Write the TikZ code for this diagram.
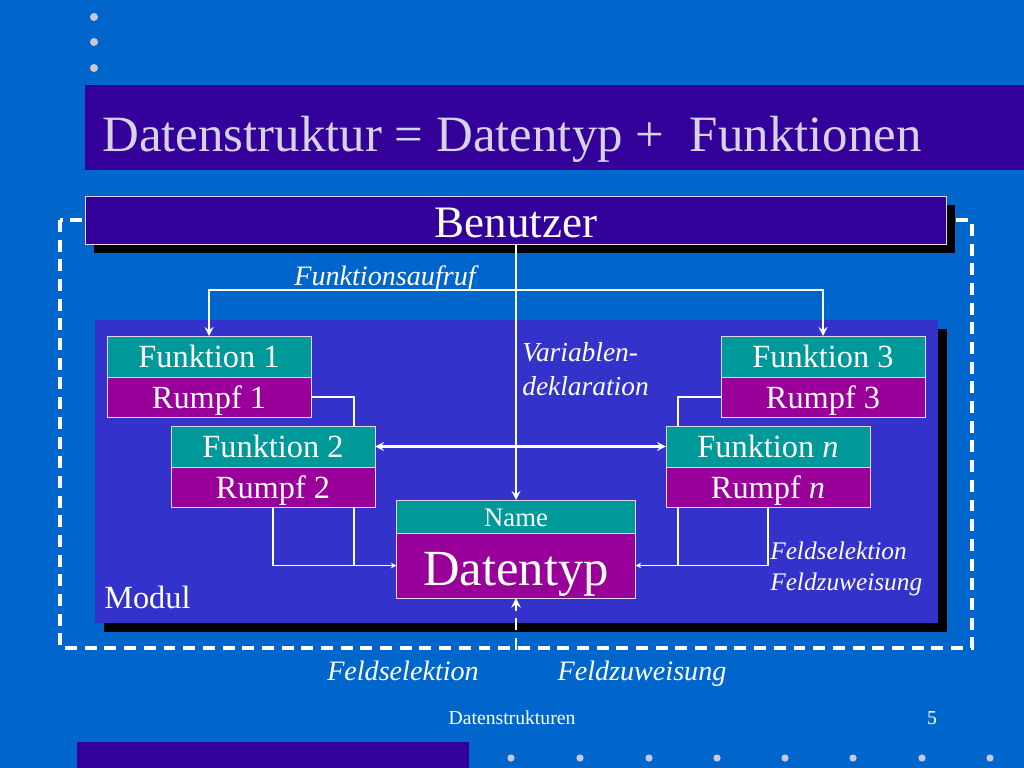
\documentclass[tikz,border=0pt]{standalone}
\usepackage{fontspec}
\setmainfont{Liberation Serif}
\usetikzlibrary{positioning, shadows, arrows}
\definecolor{slidebg}{RGB}{0,102,204}
\definecolor{titlebar}{RGB}{51,0,153}
\definecolor{modulfill}{RGB}{51,51,204}
\definecolor{funkfill}{RGB}{0,153,153}
\definecolor{rumpffill}{RGB}{153,0,153}
\definecolor{titletext}{RGB}{215,210,230}
\definecolor{dotgrey}{RGB}{200,200,215}
\definecolor{boxline}{RGB}{225,215,240}
\tikzstyle{funk} = [rectangle, minimum width=5.1cm, minimum height=1.025cm, inner sep=0pt, outer sep=0pt, text height=16.3pt, text depth=0pt, text centered, draw=boxline, line width=0.6pt, fill=funkfill, text=white, font=\fontsize{23}{26}\selectfont]
\tikzstyle{rumpf} = [funk, fill=rumpffill, minimum height=1.0cm]
\tikzstyle{typ} = [funk, minimum width=5.975cm]
\tikzstyle{bar} = [rectangle, minimum width=21.525cm, minimum height=1.2cm, inner sep=0pt, text height=25.5pt, text depth=0pt, draw=boxline, line width=0.6pt, fill=titlebar, text=white, font=\fontsize{32}{36}\selectfont, drop shadow={shadow xshift=0.22cm, shadow yshift=-0.22cm, opacity=1, fill=black}]
\tikzstyle{modul} = [rectangle, minimum width=21.075cm, minimum height=7.575cm, fill=modulfill, drop shadow={shadow xshift=0.22cm, shadow yshift=-0.22cm, opacity=1, fill=black}]
\tikzstyle{arrow} = [white, line width=1.8pt, ->, >=stealth]
\tikzstyle{dblarrow} = [arrow, <->]
\tikzstyle{link} = [white, line width=0.8pt, >=stealth]
\tikzstyle{dashframe} = [white, line width=2.2pt, dash pattern=on 8.5pt off 5.5pt]
\tikzstyle{lbl} = [text=white, inner sep=0pt, font=\itshape\fontsize{20}{24}\selectfont]

\begin{document}
\begin{tikzpicture}[x=0.025cm, y=-0.025cm]
  \useasboundingbox (0,0) rectangle (1024,768);
  \fill[slidebg] (0,0) rectangle (1024,768);
  % slide decoration
  \foreach \y in {17,42,68}
    \fill[dotgrey] (94,\y) circle (0.1cm);
  \fill[titlebar] (85,85) rectangle (1024,170);
  \node[anchor=base west, inner sep=0pt, text=titletext, font=\fontsize{36.2}{40}\selectfont] (title) at (102,151) {Datenstruktur = Datentyp +~ Funktionen};
  \fill[titlebar] (77,742) rectangle (469,768);
  \foreach \x in {511,580,649,717,785,853,922,990}
    \fill[dotgrey] (\x,758) circle (0.09cm);
  \node[anchor=base, inner sep=0pt, text=white, font=\fontsize{14}{16}\selectfont] (foot) at (512,724) {Datenstrukturen};
  \node[anchor=base, inner sep=0pt, text=white, font=\fontsize{14}{16}\selectfont] (page) at (932,724) {5};

  % frame and boxes
  \draw[dashframe] (60,220) rectangle (972,648);
  \node[modul] (modul) at (516.5,471.5) {};
  \node[bar] (benutzer) at (516,220) {Benutzer};

  \node[funk] (f1) at (209,356.5) {Funktion 1};
  \node[rumpf, below=0pt of f1] (r1) {Rumpf 1};
  \node[funk] (f2) at (273,446.5) {Funktion 2};
  \node[rumpf, below=0pt of f2] (r2) {Rumpf 2};
  \node[funk] (f3) at (823,356.5) {Funktion 3};
  \node[rumpf, below=0pt of f3] (r3) {Rumpf 3};
  \node[funk] (fn) at (768,446.5) {Funktion \textit{n}};
  \node[rumpf, below=0pt of fn] (rn) {Rumpf \textit{n}};
  \node[typ, minimum height=0.825cm, text height=14.9pt, font=\fontsize{19}{22}\selectfont] (name) at (516,516.5) {Name};
  \node[typ, fill=rumpffill, minimum height=1.625cm, text height=28.3pt, below=0pt of name, font=\fontsize{36}{40}\selectfont] (dtyp) {Datentyp};

  % connectors
  \coordinate (call) at (516,290);
  \coordinate (ext) at (516,650);
  \draw[arrow] (benutzer) -- (name);
  \draw[arrow] (call) -| (f1);
  \draw[arrow] (call) -| (f3);
  \draw[dblarrow] (f2) -- (fn);
  \draw[link] (r1.east) -| ([xshift=-0.525cm]f2.north east);
  \draw[link] ([xshift=-0.525cm]r2.south east) |- (dtyp.west);
  \draw[link, ->] (r2.south) |- (dtyp.west);
  \draw[link] (r3.west) -| ([xshift=0.3cm]fn.north west);
  \draw[link] ([xshift=0.3cm]rn.south west) |- (dtyp.east);
  \draw[link, ->] (rn.south) |- (dtyp.east);
  \draw[arrow, line width=2pt, dash pattern=on 8.5pt off 5.5pt] (ext) -- (dtyp.south);

  % labels
  \node[lbl, anchor=base] (aufruf) at (385,285) {Funktionsaufruf};
  \node[lbl, anchor=north west, align=left, font=\itshape\fontsize{19.5}{24}\selectfont] (vardekl) at (522,342) {Variablen-\\deklaration};
  \node[lbl, anchor=north west, align=left, font=\itshape\fontsize{18}{22}\selectfont] (feldr) at (770,542) {Feldselektion\\Feldzuweisung};
  \node[lbl, anchor=base] (feldsel) at (403,680) {Feldselektion};
  \node[lbl, anchor=base] (feldzuw) at (642,680) {Feldzuweisung};
  \node[anchor=base west, inner sep=0pt, text=white, font=\fontsize{23}{26}\selectfont] (modlabel) at (104,608) {Modul};
\end{tikzpicture}
\end{document}
